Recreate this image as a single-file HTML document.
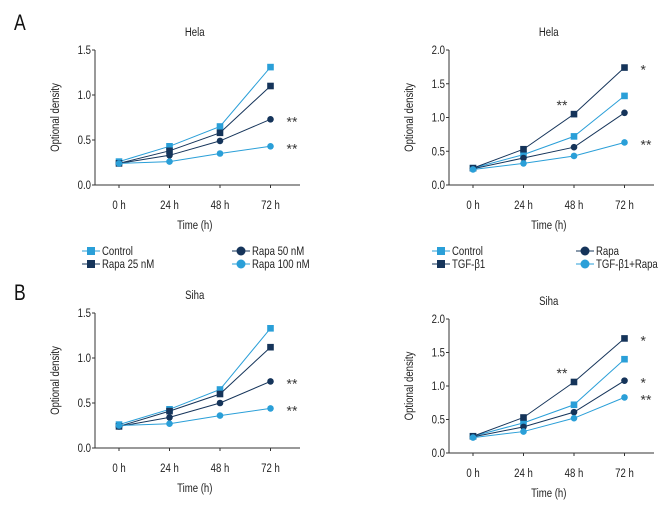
<!DOCTYPE html>
<html><head><meta charset="utf-8">
<style>
body{margin:0;background:#fff;}
svg{display:block;font-family:"Liberation Sans",sans-serif;}
</style></head>
<body>
<svg id="fig" width="672" height="528" viewBox="0 0 672 528"></svg>
<script>
const hours = ["0 h","24 h","48 h","72 h"];
const aLeftControl = [0.26,0.43,0.65,1.31];
const aLeftRapa25 = [0.24,0.38,0.58,1.10];
const aLeftRapa50 = [0.24,0.33,0.49,0.73];
const aLeftRapa100 = [0.24,0.26,0.35,0.43];
const aRightControl = [0.25,0.45,0.72,1.32];
const aRightTGF = [0.25,0.53,1.05,1.74];
const aRightRapa = [0.24,0.40,0.56,1.07];
const aRightTGFRapa = [0.23,0.32,0.43,0.63];
const bLeftControl = [0.26,0.43,0.65,1.33];
const bLeftRapa25 = [0.24,0.41,0.60,1.12];
const bLeftRapa50 = [0.24,0.34,0.50,0.74];
const bLeftRapa100 = [0.25,0.27,0.36,0.44];
const bRightControl = [0.25,0.45,0.72,1.40];
const bRightTGF = [0.25,0.53,1.06,1.71];
const bRightRapa = [0.24,0.39,0.61,1.08];
const bRightTGFRapa = [0.23,0.32,0.52,0.83];
const ticks15 = [0,0.5,1.0,1.5];
const ticks20 = [0,0.5,1.0,1.5,2.0];

const LIGHT="#2a9fd8", DARK="#15345a";
const NS="http://www.w3.org/2000/svg";
const svg=document.getElementById('fig');
function mk(tag,attrs,parent,txt){const e=document.createElementNS(NS,tag);for(const k in attrs)e.setAttribute(k,attrs[k]);if(txt!==undefined)e.textContent=txt;(parent||svg).appendChild(e);return e;}
function txt(parent,x,y,s,size,anchor,rot){
  const tr=`translate(${x} ${y})`+(rot?` rotate(${rot})`:'')+' scale(0.8 1)';
  return mk('text',{x:0,y:0,'font-size':size,'text-anchor':anchor,fill:'#222',transform:tr},parent,s);
}
function marker(g,shape,color,x,y,s){
  if(shape==='sq') return mk('rect',{x:x-s,y:y-s,width:2*s,height:2*s,fill:color},g);
  return mk('circle',{cx:x,cy:y,r:s,fill:color},g);
}
function chart(id,title,ax,ytop,ybot,ymax,ticks,series,stars){
  const g=mk('g',{});
  
  
  const x0=ax+24, step=50.5, xend=ax+205;
  const xs=i=>x0+i*step;
  const ys=v=>ybot-(v/ymax)*(ybot-ytop);
  const t=txt(g,xs(1.5),ytop-14,title,12,'middle');
  
  
  mk('line',{x1:ax,y1:ytop,x2:ax,y2:ybot,stroke:'#333','stroke-width':1},g);
  mk('line',{x1:ax,y1:ybot,x2:xend,y2:ybot,stroke:'#333','stroke-width':1},g);
  ticks.forEach(v=>{
    mk('line',{x1:ax-3,y1:ys(v),x2:ax,y2:ys(v),stroke:'#333'},g);
    const tl=txt(g,ax-4,ys(v)+4,v.toFixed(1),12,'end');
    
    
  });
  hours.forEach((h,i)=>{
    mk('line',{x1:xs(i),y1:ybot,x2:xs(i),y2:ybot+3,stroke:'#333'},g);
    const tl=txt(g,xs(i),ybot+24,h,12,'middle');
    
    
  });
  const xt=txt(g,xs(1.5),ybot+44,'Time (h)',12,'middle');
  
  
  const cy=(ytop+ybot)/2;
  const yt=txt(g,ax-36,cy,'Optional density',12,'middle',-90);
  
  
  series.forEach(s=>{
    const pts=s.data.map((v,i)=>xs(i)+','+ys(v)).join(' ');
    const pl=mk('polyline',{points:pts,fill:'none',stroke:s.color,'stroke-width':1},g);
    
    
    s.data.forEach((v,i)=>{
      const m=marker(g,s.shape,s.color,xs(i),ys(v),3.3);
      
      
    });
  });
  stars.forEach(st=>{
    const d=series[st.s].data;
    const sx=st.i===3?xs(3)+16:xs(st.i)-12;
    const sy=st.i===3?ys(d[3])+7:ys(d[st.i])-4;
    const tx=mk('text',{x:sx,y:sy,'font-size':14,'text-anchor':st.i===3?'start':'middle',fill:'#333'},g,st.t);
    
    
  });
}
function legend(x1,x2,y,items){
  items.forEach((it,k)=>{
    const lx=k<2?x1:x2, ly=y+(k%2)*13;
    const g=mk('g',{});
    
    
    mk('line',{x1:lx,y1:ly,x2:lx+18,y2:ly,stroke:it.color},g);
    marker(g,it.shape,it.color,lx+9,ly,it.shape==='sq'?4:4.5);
    txt(g,lx+20,ly+4,it.label,12,'start');
  });
}
function lab(t,x,y){const e=txt(svg,x,y,t,22,'start');e.setAttribute('fill','#111');}
lab('A',14,30); lab('B',14,300);
const L1=(a,b,c,d)=>[{data:a,color:LIGHT,shape:'sq'},{data:b,color:DARK,shape:'sq'},{data:c,color:DARK,shape:'ci'},{data:d,color:LIGHT,shape:'ci'}];
chart('hela-rapa-chart','Hela',95,50,185,1.5,ticks15,L1(aLeftControl,aLeftRapa25,aLeftRapa50,aLeftRapa100),[{s:2,i:3,t:'**'},{s:3,i:3,t:'**'}]);
chart('hela-tgf-chart','Hela',449,50,185,2.0,ticks20,L1(aRightControl,aRightTGF,aRightRapa,aRightTGFRapa),[{s:1,i:3,t:'*'},{s:1,i:2,t:'**'},{s:3,i:3,t:'**'}]);
chart('siha-rapa-chart','Siha',95,313,448,1.5,ticks15,L1(bLeftControl,bLeftRapa25,bLeftRapa50,bLeftRapa100),[{s:2,i:3,t:'**'},{s:3,i:3,t:'**'}]);
chart('siha-tgf-chart','Siha',449,319,453,2.0,ticks20,L1(bRightControl,bRightTGF,bRightRapa,bRightTGFRapa),[{s:1,i:3,t:'*'},{s:1,i:2,t:'**'},{s:2,i:3,t:'*'},{s:3,i:3,t:'**'}]);
legend(82,232,251,[{label:'Control',color:LIGHT,shape:'sq'},{label:'Rapa 25 nM',color:DARK,shape:'sq'},{label:'Rapa 50 nM',color:DARK,shape:'ci'},{label:'Rapa 100 nM',color:LIGHT,shape:'ci'}]);
legend(432,576,251,[{label:'Control',color:LIGHT,shape:'sq'},{label:'TGF-β1',color:DARK,shape:'sq'},{label:'Rapa',color:DARK,shape:'ci'},{label:'TGF-β1+Rapa',color:LIGHT,shape:'ci'}]);
</script>
</body></html>
